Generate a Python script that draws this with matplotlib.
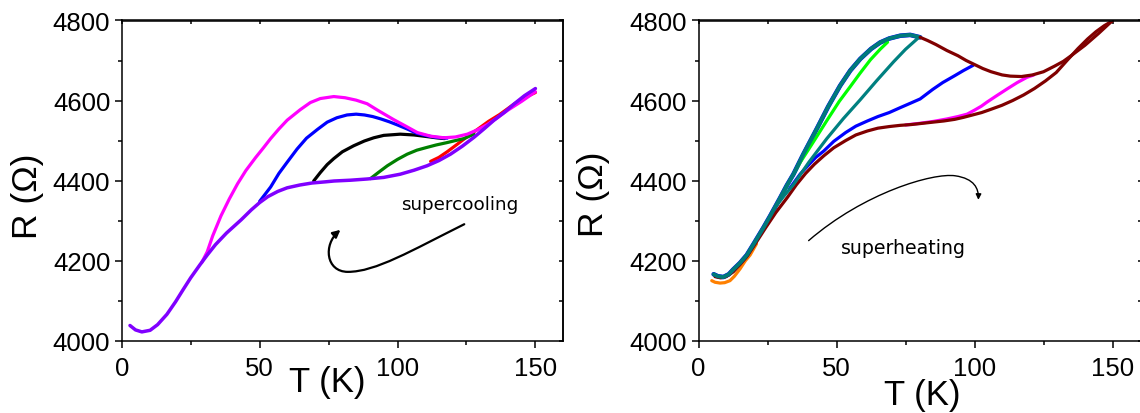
import numpy as np
import matplotlib
matplotlib.use("Agg")
import matplotlib.pyplot as plt
from matplotlib.path import Path
from matplotlib.patches import FancyArrowPatch
from matplotlib.ticker import MultipleLocator, NullFormatter

plt.rcParams['font.family'] = ['Liberation Sans', 'DejaVu Sans']

# ---------------- Left panel (supercooling) ----------------
T_purple = [3, 5, 7.3, 10.3, 13, 16.4, 19.5, 22.4, 25, 28.4, 31, 34, 38, 43.3, 47, 50, 53,
            56.6, 60, 64.6, 69, 74, 77, 83, 89, 95, 101, 106, 110.7, 115, 119.2, 123.5,
            127.7, 131.5, 135, 139, 142, 146, 150]
R_purple = [4038, 4027, 4022, 4026, 4040, 4066, 4097, 4129, 4157, 4190, 4214, 4240, 4269,
            4302, 4327, 4345, 4360, 4373, 4382, 4389, 4394, 4397, 4399, 4401, 4404, 4408,
            4416, 4426, 4437, 4450, 4466, 4486, 4508, 4530, 4551, 4572, 4590, 4612, 4630]

T_magenta = [29, 31, 33, 36, 39, 42, 45, 48.6, 51.4, 54, 57, 60, 64.7, 68.4, 72, 76.9, 81,
             85, 89, 93, 98.7, 103, 107.2, 112, 116.8, 121, 125.3, 129, 132.6, 136, 140, 145, 150]
R_magenta = [4195, 4222, 4262, 4312, 4354, 4392, 4425, 4458, 4482, 4505, 4529, 4551, 4577,
             4595, 4605, 4610, 4607, 4601, 4592, 4575, 4552, 4536, 4520, 4511, 4507, 4509,
             4516, 4527, 4540, 4556, 4576, 4598, 4622]

T_blue = [50, 52, 54, 57, 60, 63.6, 67, 71, 74.5, 78, 81.7, 85, 88, 91, 94, 97, 100, 103.5,
          107, 110.7, 114, 118]
R_blue = [4348, 4366, 4384, 4418, 4446, 4479, 4506, 4528, 4546, 4557, 4564, 4566, 4564,
          4560, 4554, 4547, 4539, 4529, 4518, 4512, 4508, 4506]

T_black = [69.6, 72, 74.5, 76.9, 80, 84.1, 88, 91.4, 95, 101, 106, 110.7, 114, 117]
R_black = [4399, 4420, 4440, 4455, 4472, 4487, 4499, 4507, 4513, 4516, 4514, 4510, 4507, 4505]

T_green = [90.2, 93, 96.3, 100, 103.5, 107, 110.7, 114, 118, 121, 124.1, 127.7]
R_green = [4405, 4420, 4437, 4453, 4466, 4476, 4483, 4489, 4495, 4500, 4505, 4516]

T_red = [112, 115, 118, 121.5, 125.3, 129, 133, 137, 141, 145, 150]
R_red = [4448, 4458, 4472, 4490, 4510, 4528, 4548, 4565, 4585, 4604, 4620]

# ---------------- Right panel (superheating) ----------------
T_env = [5.5, 7, 9, 11, 12.6, 15, 17.5, 20, 23.5, 26, 29.6, 32, 34.4, 38, 42.9, 47, 51.3,
         55, 58.6, 62.5, 65.8, 69.1, 73.1, 76.7, 80.3]
R_env = [4166, 4161, 4159, 4166, 4178, 4194, 4214, 4242, 4282, 4312, 4357, 4388, 4416,
         4466, 4530, 4585, 4637, 4675, 4704, 4729, 4745, 4755, 4762, 4764, 4758]

T_heat = [6, 8, 10, 12.6, 15, 17.5, 20, 24.3, 28, 32.2, 35.5, 38.8, 42, 45.4, 49, 53.3, 57,
          61.2, 65, 69.1, 73, 77, 81, 84.9, 88.9, 92.8, 96, 99.3, 102.6, 105.9, 109.9, 113.8,
          117.8, 121.7, 125.7, 129.6, 133.5, 137.5, 141, 144, 147, 150]
R_heat = [4160, 4157, 4160, 4172, 4190, 4210, 4236, 4282, 4320, 4358, 4390, 4418, 4441,
          4462, 4482, 4500, 4514, 4524, 4531, 4535, 4538, 4540, 4543, 4546, 4549, 4553,
          4558, 4564, 4570, 4578, 4588, 4600, 4614, 4630, 4649, 4670, 4700, 4730, 4754,
          4772, 4787, 4799]

T_cool = [150, 145, 140, 135, 132.2, 129, 125, 121, 117, 113, 110, 106, 103, 100, 97, 94,
          90, 86, 83, 80.3]
R_cool = [4800, 4768, 4738, 4712, 4698, 4686, 4672, 4664, 4660, 4661, 4664, 4672, 4680,
          4690, 4700, 4712, 4725, 4740, 4750, 4758]

T_blue2 = [33, 36.8, 40, 42.5, 45.4, 49, 53.3, 57, 61.2, 65, 69.1, 73, 77, 80.3, 84.9, 88.5,
           92.8, 96, 99.5]
R_blue2 = [4380, 4416, 4440, 4458, 4474, 4498, 4520, 4536, 4549, 4560, 4570, 4582, 4594,
           4604, 4628, 4645, 4662, 4675, 4688]

T_mag2 = [75, 80, 85.2, 90, 94, 97.3, 100, 102.5, 104.5, 108, 111.8, 115.5, 119, 121.5]
R_mag2 = [4539, 4543, 4548, 4554, 4560, 4566, 4576, 4586, 4596, 4612, 4629, 4645, 4658, 4664]

T_lime = [30, 33, 36.8, 41, 46.5, 51, 55, 58.5, 62.3, 65.8, 68.5]
R_lime = [4362, 4398, 4445, 4490, 4550, 4598, 4635, 4668, 4702, 4728, 4746]

T_teal = [28, 31, 34.4, 40, 46.5, 52.5, 58.6, 64.6, 70.7, 75, 79.7]
R_teal = [4335, 4362, 4390, 4446, 4505, 4555, 4602, 4650, 4697, 4728, 4757]

T_orange = [4.8, 6, 7.8, 9.5, 11.4, 13, 15, 17, 18.7, 21]
R_orange = [4150, 4146, 4144, 4145, 4150, 4161, 4179, 4200, 4214, 4242]

x_ticks = [0, 50, 100, 150]
y_ticks = [4000, 4200, 4400, 4600, 4800]

# annotation arrows: cubic Bezier control points (data coordinates)
arrow_left = [(124.2, 4291), (105, 4225), (92, 4172), (82, 4172),
              (74, 4172), (73, 4240), (79.3, 4277)]
arrow_right = [(39.9, 4250), (60, 4370), (85, 4420), (93, 4412),
               (100, 4405), (101.5, 4380), (101.4, 4352)]
bez_codes = [Path.MOVETO, Path.CURVE4, Path.CURVE4, Path.CURVE4,
             Path.CURVE4, Path.CURVE4, Path.CURVE4]

W, H = 1140, 414
fig = plt.figure(figsize=(W / 100, H / 100), dpi=100)

ax1 = fig.add_axes([121.7 / W, (H - 341.7) / H, 441.3 / W, 320.2 / H])
ax2 = fig.add_axes([698.5 / W, (H - 341.7) / H, 443.0 / W, 320.2 / H])

lw = 2.3
kw = dict(solid_capstyle='round', solid_joinstyle='round')
ax1.plot(T_red, R_red, color='#ff0000', lw=lw, **kw)
ax1.plot(T_green, R_green, color='#008000', lw=lw, **kw)
ax1.plot(T_black, R_black, color='black', lw=lw, **kw)
ax1.plot(T_blue, R_blue, color='#0000ff', lw=lw, **kw)
ax1.plot(T_magenta, R_magenta, color='#ff00ff', lw=lw, **kw)
ax1.plot(T_purple, R_purple, color='#8000ff', lw=lw + 0.2, **kw)

ax2.plot(T_orange, R_orange, color='#ff8000', lw=lw, **kw)
ax2.plot(T_env, R_env, color='#0000ff', lw=3.3, **kw)
ax2.plot(T_blue2, R_blue2, color='#0000ff', lw=lw, **kw)
ax2.plot(T_mag2, R_mag2, color='#ff00ff', lw=lw, **kw)
ax2.plot(T_heat, R_heat, color='#800000', lw=lw, **kw)
ax2.plot(T_lime, R_lime, color='#00ff00', lw=lw, **kw)
ax2.plot(T_teal, R_teal, color='#008080', lw=lw, **kw)
ax2.plot(T_env, R_env, color='#007a7a', lw=2.9, **kw)
ax2.plot(T_cool, R_cool, color='#800000', lw=lw, **kw)

for ax, xl in ((ax1, 160), (ax2, 160.5)):
    ax.set_xlim(0, xl)
    ax.set_ylim(4000, 4800)
    ax.set_xticks(x_ticks)
    ax.set_yticks(y_ticks)
    ax.xaxis.set_minor_locator(MultipleLocator(25))
    ax.yaxis.set_minor_locator(MultipleLocator(100))
    ax.tick_params(axis='both', which='major', direction='out', length=5, width=1.1,
                   labelsize=18.5, top=False, right=False)
    ax.tick_params(axis='both', which='minor', direction='out', length=2.6, width=1.1,
                   top=False, right=False)
    ax.tick_params(axis='y', which='major', pad=3.2)
    ax.tick_params(axis='x', which='major', pad=6)
    for s in ax.spines.values():
        s.set_linewidth(1.1)
    secx = ax.secondary_xaxis('top')
    secx.xaxis.set_major_locator(MultipleLocator(25))
    secx.xaxis.set_major_formatter(NullFormatter())
    secx.tick_params(axis='x', direction='in', length=3, width=1.1)
    secx.spines['top'].set_linewidth(1.1)
    secy = ax.secondary_yaxis('right')
    secy.yaxis.set_major_locator(MultipleLocator(100))
    secy.yaxis.set_major_formatter(NullFormatter())
    secy.tick_params(axis='y', direction='in', length=3, width=1.1)
    secy.spines['right'].set_linewidth(1.1)
    ax.set_xlabel('T (K)', fontsize=25)
    ax.set_ylabel('R (\u03a9)', fontsize=25.5)

ax1.xaxis.set_label_coords(0.465, -0.076)
ax2.xaxis.set_label_coords(0.504, -0.118)
ax1.yaxis.set_label_coords(-0.213, 0.455)
ax2.yaxis.set_label_coords(-0.237, 0.462)
ax1.xaxis.label.set_va('top')
ax2.xaxis.label.set_va('top')
ax1.yaxis.label.set_va('center')
ax2.yaxis.label.set_va('center')

ax1.text(122.5, 4342, 'supercooling', fontsize=13.2, family='DejaVu Sans',
         ha='center', va='center')
ax2.text(74.3, 4234, 'superheating', fontsize=13.6, family='DejaVu Sans',
         ha='center', va='center')

ax1.add_patch(FancyArrowPatch(path=Path(arrow_left, bez_codes), arrowstyle='-|>',
                              mutation_scale=11, lw=1.6, color='black',
                              transform=ax1.transData))
ax2.add_patch(FancyArrowPatch(path=Path(arrow_right, bez_codes), arrowstyle='-|>',
                              mutation_scale=8, lw=1.0, color='black',
                              transform=ax2.transData))

fig.savefig('out.png', dpi=100)
